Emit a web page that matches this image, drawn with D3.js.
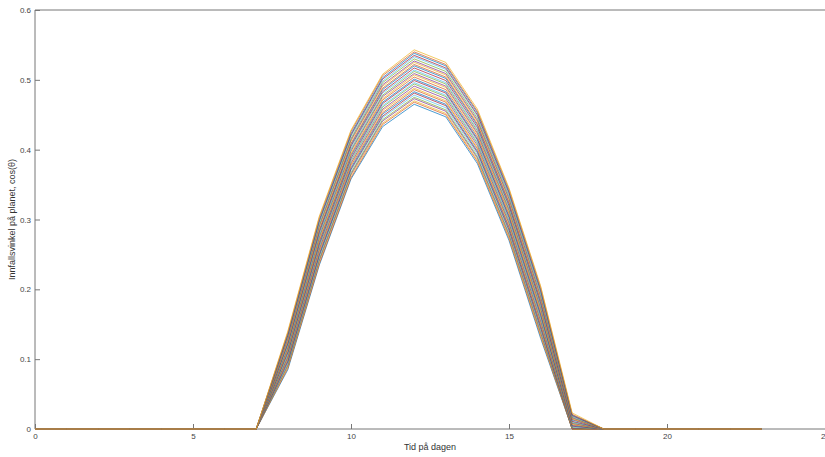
<!DOCTYPE html>
<html>
<head>
<meta charset="utf-8">
<script src="https://cdn.jsdelivr.net/npm/d3@7"></script>
<style>
  body { margin: 0; background: #fff; }
  svg { display: block; font-family: "Liberation Sans", Arial, sans-serif; }
</style>
</head>
<body>
<div id="chart"></div>
<script>
// One line per day (31 days), hourly values of cos(theta) for hours 0..23.
// Days are zero outside the hours listed below.
const hours = d3.range(0, 24);
const dayCount = 31;

// values per hour, day 1 (lowest) .. day 31 (highest)
const hour8 = [0.085, 0.087, 0.089, 0.091, 0.092, 0.094, 0.096, 0.098, 0.100, 0.102, 0.103, 0.105, 0.107, 0.109, 0.111, 0.113, 0.114, 0.116, 0.118, 0.120, 0.122, 0.123, 0.125, 0.127, 0.129, 0.131, 0.133, 0.134, 0.136, 0.138, 0.140];
const hour9 = [0.235, 0.237, 0.240, 0.242, 0.244, 0.247, 0.249, 0.251, 0.254, 0.256, 0.258, 0.261, 0.263, 0.265, 0.268, 0.270, 0.272, 0.275, 0.277, 0.279, 0.282, 0.284, 0.286, 0.289, 0.291, 0.293, 0.296, 0.298, 0.300, 0.303, 0.305];
const hour10 = [0.358, 0.360, 0.363, 0.365, 0.367, 0.370, 0.372, 0.374, 0.377, 0.379, 0.381, 0.384, 0.386, 0.388, 0.391, 0.393, 0.395, 0.398, 0.400, 0.402, 0.405, 0.407, 0.409, 0.412, 0.414, 0.416, 0.419, 0.421, 0.423, 0.426, 0.428];
const hour11 = [0.433, 0.436, 0.438, 0.441, 0.443, 0.446, 0.448, 0.451, 0.453, 0.456, 0.458, 0.461, 0.463, 0.466, 0.468, 0.471, 0.473, 0.476, 0.478, 0.481, 0.483, 0.486, 0.488, 0.491, 0.493, 0.496, 0.498, 0.501, 0.503, 0.506, 0.508];
const hour12 = [0.465, 0.468, 0.470, 0.473, 0.475, 0.478, 0.481, 0.483, 0.486, 0.488, 0.491, 0.494, 0.496, 0.499, 0.501, 0.504, 0.507, 0.509, 0.512, 0.514, 0.517, 0.520, 0.522, 0.525, 0.527, 0.530, 0.533, 0.535, 0.538, 0.540, 0.543];
const hour13 = [0.447, 0.450, 0.452, 0.455, 0.457, 0.460, 0.463, 0.465, 0.468, 0.470, 0.473, 0.476, 0.478, 0.481, 0.483, 0.486, 0.489, 0.491, 0.494, 0.496, 0.499, 0.502, 0.504, 0.507, 0.509, 0.512, 0.515, 0.517, 0.520, 0.522, 0.525];
const hour14 = [0.380, 0.383, 0.385, 0.388, 0.390, 0.393, 0.396, 0.398, 0.401, 0.403, 0.406, 0.409, 0.411, 0.414, 0.416, 0.419, 0.422, 0.424, 0.427, 0.429, 0.432, 0.435, 0.437, 0.440, 0.442, 0.445, 0.448, 0.450, 0.453, 0.455, 0.458];
const hour15 = [0.270, 0.273, 0.275, 0.278, 0.280, 0.283, 0.285, 0.288, 0.290, 0.293, 0.295, 0.298, 0.300, 0.303, 0.305, 0.308, 0.310, 0.313, 0.315, 0.318, 0.320, 0.323, 0.325, 0.328, 0.330, 0.333, 0.335, 0.338, 0.340, 0.343, 0.345];
const hour16 = [0.130, 0.133, 0.135, 0.138, 0.140, 0.143, 0.145, 0.148, 0.150, 0.153, 0.155, 0.158, 0.160, 0.163, 0.165, 0.168, 0.170, 0.173, 0.175, 0.178, 0.180, 0.183, 0.185, 0.188, 0.190, 0.193, 0.195, 0.198, 0.200, 0.203, 0.205];
const hour17 = [0, 0, 0, 0, 0, 0, 0, 0, 0, 0, 0.001, 0.002, 0.003, 0.004, 0.005, 0.006, 0.007, 0.008, 0.009, 0.010, 0.011, 0.013, 0.014, 0.015, 0.016, 0.017, 0.018, 0.019, 0.020, 0.021, 0.023];

const xTicks = [0, 5, 10, 15, 20, 25];
const yTicks = [0, 0.1, 0.2, 0.3, 0.4, 0.5, 0.6];

// MATLAB default colour order
const lineColors = ["#0072BD", "#D95319", "#EDB120", "#7E2F8E", "#77AC30", "#4DBEEE", "#A2142F"];

const daylight = { 8: hour8, 9: hour9, 10: hour10, 11: hour11, 12: hour12, 13: hour13, 14: hour14, 15: hour15, 16: hour16, 17: hour17 };
const series = d3.range(dayCount).map(day =>
    hours.map(h => ({ hour: h, value: daylight[h] ? daylight[h][day] : 0 }))
);

const width = 825;
const height = 457;
const margin = { top: 10, right: 0, bottom: 28, left: 35 };

const svg = d3.select("#chart").append("svg")
    .attr("width", width)
    .attr("height", height);

const x = d3.scaleLinear().domain([0, 25]).range([margin.left, width - margin.right]);
const y = d3.scaleLinear().domain([0, 0.6]).range([height - margin.bottom, margin.top]);

const axisColor = "#777";
const labelColor = "#444";

const xAxis = svg.append("g")
    .attr("transform", `translate(0,${y(0)})`)
    .call(d3.axisBottom(x).tickValues(xTicks).tickSize(-5).tickPadding(4).tickFormat(d3.format("d")));
const yAxis = svg.append("g")
    .attr("transform", `translate(${x(0)},0)`)
    .call(d3.axisLeft(y).tickValues(yTicks).tickSize(-5).tickPadding(4).tickFormat(d => d === 0 ? "0" : d3.format(".1f")(d)));

[xAxis, yAxis].forEach(g => {
    g.select(".domain").remove();
    g.selectAll(".tick line").attr("stroke", axisColor);
    g.selectAll(".tick text")
        .attr("fill", labelColor)
        .style("font-size", "8px")
        .style("font-family", "'Liberation Sans', Arial, sans-serif");
});

// box
svg.append("path")
    .attr("d", `M${x(0)},${y(0)}V${y(0.6)}H${x(25)}M${x(0)},${y(0)}H${x(25)}`)
    .attr("fill", "none")
    .attr("stroke", axisColor)
    .attr("stroke-width", 1);

const line = d3.line()
    .x(d => x(d.hour))
    .y(d => y(d.value));

svg.append("g")
    .selectAll("path")
    .data(series)
    .join("path")
    .attr("d", line)
    .attr("fill", "none")
    .attr("stroke", (d, i) => lineColors[i % lineColors.length])
    .attr("stroke-width", 0.7);

svg.append("text")
    .attr("x", (x(0) + x(25)) / 2)
    .attr("y", 450)
    .attr("text-anchor", "middle")
    .attr("fill", "#333")
    .style("font-size", "9px")
    .text("Tid på dagen");

svg.append("text")
    .attr("transform", `translate(15,${(y(0) + y(0.6)) / 2}) rotate(-90)`)
    .attr("text-anchor", "middle")
    .attr("fill", "#333")
    .style("font-size", "9px")
    .text("Innfallsvinkel på planet, cos(θ)");
</script>
</body>
</html>
